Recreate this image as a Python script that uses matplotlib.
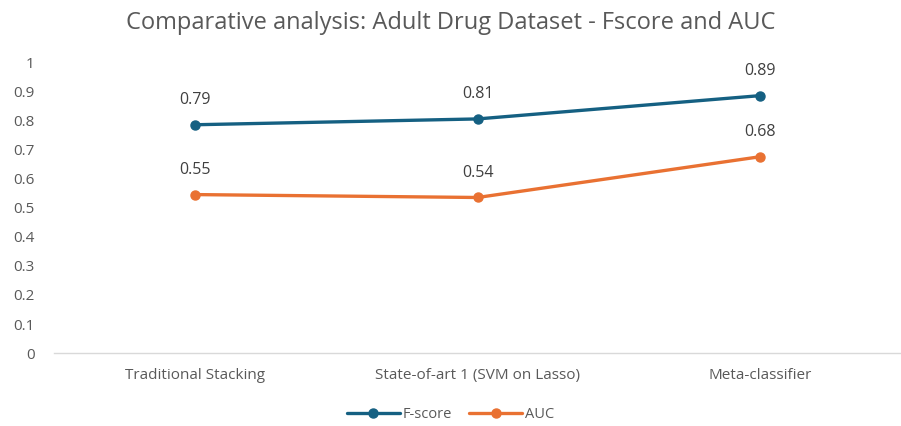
import numpy as np
import matplotlib
matplotlib.use("Agg")
import matplotlib.pyplot as plt

plt.rcParams['font.family'] = ['Open Sans', 'DejaVu Sans']

categories = ["Traditional Stacking", "State-of-art 1 (SVM on Lasso)", "Meta-classifier"]
fscore = [0.785, 0.805, 0.885]
auc = [0.545, 0.535, 0.675]
yticks = [0, 0.1, 0.2, 0.3, 0.4, 0.5, 0.6, 0.7, 0.8, 0.9, 1]
ytick_labels = ["0", "0.1", "0.2", "0.3", "0.4", "0.5", "0.6", "0.7", "0.8", "0.9", "1"]

text_gray = '#595959'
blue = '#156082'
orange = '#E97132'

fig = plt.figure(figsize=(9.01, 4.26), dpi=100)
ax = fig.add_axes([0.06, 0.171, 0.94, 0.683])

x = np.arange(len(categories))
ax.plot(x, fscore, color=blue, lw=2.4, marker='o', ms=6.5, label='F-score', solid_capstyle='round')
ax.plot(x, auc, color=orange, lw=2.4, marker='o', ms=6.5, label='AUC', solid_capstyle='round')

#data labels above points
for xi, v in zip(x, fscore):
    ax.annotate(f"{v:.2f}", (xi, v), xytext=(0, 12), textcoords='offset points',
                ha='center', va='bottom', fontsize=11.5, color='#404040')
for xi, v in zip(x, auc):
    ax.annotate(f"{v:.2f}", (xi, v), xytext=(0, 12), textcoords='offset points',
                ha='center', va='bottom', fontsize=11.5, color='#404040')

ax.set_xlim(-0.5, len(categories) - 0.5)
ax.set_ylim(0, 1)
ax.set_xticks(x)
ax.set_xticklabels(categories, fontsize=11, color=text_gray)
ax.set_yticks(yticks)
ax.set_yticklabels(ytick_labels, fontsize=11, color=text_gray)
ax.tick_params(length=0, pad=11)
ax.tick_params(axis='y', pad=14)

for s in ['top', 'right', 'left']:
    ax.spines[s].set_visible(False)
ax.spines['bottom'].set_color('#d9d9d9')
ax.spines['bottom'].set_linewidth(1)

fig.suptitle("Comparative analysis: Adult Drug Dataset - Fscore and AUC", y=0.975,
             fontsize=17, color=text_gray)

fig.legend(loc='lower center', bbox_to_anchor=(0.5, -0.022), ncol=2, frameon=False,
           fontsize=10.5, labelcolor=text_gray, handlelength=3.6, columnspacing=1.2,
           handletextpad=0.2)

fig.savefig("out.png", dpi=100)
